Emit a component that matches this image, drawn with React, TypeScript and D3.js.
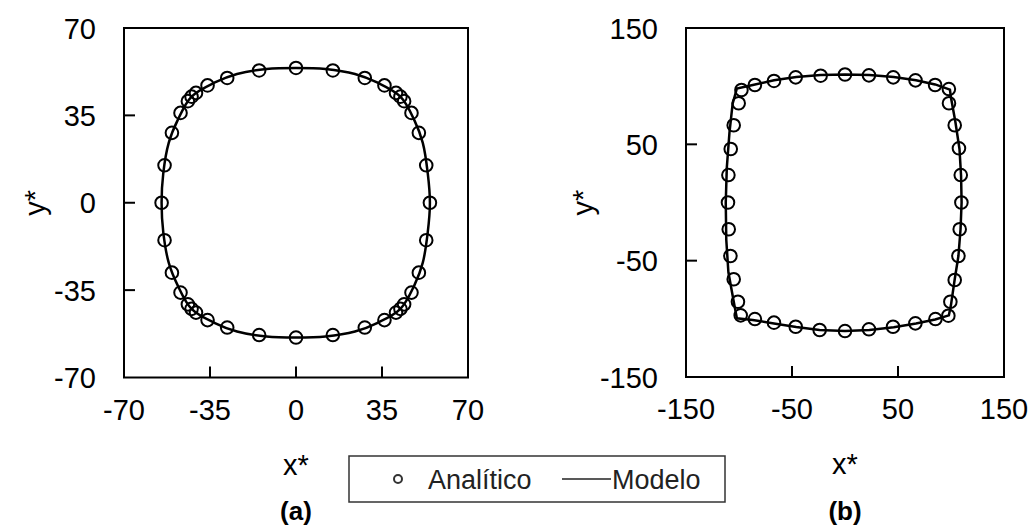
import React from "react";
import * as d3 from "d3";

type Pt = [number, number];

// (a) tick values
const ticksA = [-70, -35, 0, 35, 70];
// (b) tick values
const ticksB = [-150, -50, 50, 150];

// (a) analytic points (x*, y*)
const analyticA: Pt[] = [
  [54.5, 0], [53, 15], [50, 28], [47, 36], [44, 40.7], [42.5, 42.5], [40.7, 44], [36, 47], [28, 50], [15, 53],
  [0, 54],
  [-15, 53], [-28, 50], [-36, 47], [-40.7, 44], [-42.5, 42.5], [-44, 40.7], [-47, 36], [-50.5, 28], [-53.5, 15],
  [-54.7, 0],
  [-53.5, -15], [-50.5, -28], [-47, -36], [-44, -40.7], [-42.5, -42.5], [-40.7, -44], [-36, -47], [-28, -50], [-15, -53],
  [0, -54],
  [15, -53], [28, -50], [36, -47], [40.7, -44], [42.5, -42.5], [44, -40.7], [47, -36], [50, -28], [53, -15],
];

// (a) model curve
const modelA: Pt[] = [
  [54.5, 0], [53.6, 12], [51.6, 24], [48.2, 33], [42.5, 42.5], [33, 48.2], [24, 51.6], [12, 53.6],
  [0, 54],
  [-12, 53.6], [-24, 51.6], [-33, 48.2], [-42.5, 42.5], [-48.2, 33], [-51.8, 24], [-54, 12],
  [-54.7, 0],
  [-54, -12], [-51.8, -24], [-48.2, -33], [-42.5, -42.5], [-33, -48.2], [-24, -51.6], [-12, -53.6],
  [0, -54],
  [12, -53.6], [24, -51.6], [33, -48.2], [42.5, -42.5], [48.2, -33], [51.6, -24], [53.6, -12],
];

// (b) analytic points
const analyticB: Pt[] = [
  [98, 97.5],
  [85, 101], [66.5, 105], [45.5, 107.6], [22.6, 109.3], [0, 110], [-23, 109], [-46.5, 107.6], [-67, 104.5], [-85, 101],
  [-97.7, 96.7],
  [-100.3, 85.3], [-105, 66.4], [-107.8, 46], [-110, 23.6], [-110.4, 0], [-109.7, -23], [-108.1, -46], [-105, -66], [-101, -85.3],
  [-98.4, -97],
  [-85, -100.2], [-67, -103.3], [-46.5, -106.8], [-23.9, -109.6], [0, -110.5], [22.6, -109], [45.3, -106.8], [66.4, -103.9], [85.3, -100.2],
  [97.5, -97.3],
  [99.4, -85.3], [103.5, -66.6], [107, -46], [108.2, -23], [109.8, 0], [109.2, 23.6], [107.5, 46.6], [103.5, 66.4], [98.1, 85.3],
];

// (b) model curve
const modelB: Pt[] = [
  [99, 97], [85, 101.5], [67, 105], [46, 107.8], [23, 109.5], [0, 110], [-23, 109.5], [-46, 107.8], [-67, 105], [-87, 101],
  [-102, 98],
  [-106, 85], [-109, 60], [-111.5, 30], [-112.5, 0], [-112, -32], [-110, -60], [-104, -90],
  [-102, -99.5],
  [-87, -101], [-67, -104], [-46, -107], [-24, -109.6], [0, -110.5], [23, -109.5], [46, -107.2], [67, -104], [85, -100.5],
  [98, -97],
  [100, -88], [103.5, -66], [107, -46], [109, -23], [110, 0], [109.5, 23], [108, 46], [104, 70], [100, 90],
];

const FONT = "'Liberation Sans', Arial, sans-serif";

type PanelProps = {
  left: number; right: number; top: number; bottom: number;
  extent: number; ticks: number[];
  analytic: Pt[]; model: Pt[];
  curve: d3.CurveFactory;
  tag: string; yLabelX: number;
};

const Panel = ({ left, right, top, bottom, extent, ticks, analytic, model, curve, tag, yLabelX }: PanelProps) => {
  const x = d3.scaleLinear().domain([-extent, extent]).range([left, right]);
  const y = d3.scaleLinear().domain([-extent, extent]).range([bottom, top]);
  const line = d3.line<Pt>().x(d => x(d[0])).y(d => y(d[1])).curve(curve);
  const inner = ticks.filter(t => Math.abs(t) !== extent);
  const cx = (left + right) / 2;
  return (
    <g>
      <rect x={left} y={top} width={right - left} height={bottom - top} fill="none" stroke="#000" strokeWidth={2} />
      {inner.map(t => (
        <g key={"t" + t}>
          <line x1={x(t)} x2={x(t)} y1={bottom} y2={bottom - 11} stroke="#000" strokeWidth={2} />
          <line x1={left} x2={left + 11} y1={y(t)} y2={y(t)} stroke="#000" strokeWidth={2} />
        </g>
      ))}
      {ticks.map(t => (
        <g key={"l" + t} fontFamily={FONT} fontSize={29} fill="#000">
          <text x={x(t)} y={bottom + 42} textAnchor="middle">{t}</text>
          <text x={left - 28} y={y(t) + 10.5} textAnchor="end">{t}</text>
        </g>
      ))}
      <path d={line(model) || ""} fill="none" stroke="#000" strokeWidth={2.5} />
      {analytic.map((d, i) => (
        <circle key={i} cx={x(d[0])} cy={y(d[1])} r={6.3} fill="none" stroke="#000" strokeWidth={2} />
      ))}
      <text x={cx} y={bottom + 97} textAnchor="middle" fontFamily={FONT} fontSize={29}>x*</text>
      <text transform={`translate(${yLabelX},${(top + bottom) / 2}) rotate(-90)`} textAnchor="middle"
        fontFamily={FONT} fontSize={29}>y*</text>
      <text x={cx} y={520} textAnchor="middle" fontFamily={FONT} fontSize={26} fontWeight="bold">{tag}</text>
    </g>
  );
};

export default function App() {
  return (
    <svg width={1032} height={525} style={{ position: "absolute", left: 0, top: 0, background: "#fff" }}>
      <Panel left={124} right={468} top={28} bottom={377.5} extent={70} ticks={ticksA}
        analytic={analyticA} model={modelA} curve={d3.curveCatmullRomClosed.alpha(0.5)} tag="(a)" yLabelX={45} />
      <Panel left={686} right={1004} top={28} bottom={377} extent={150} ticks={ticksB}
        analytic={analyticB} model={modelB} curve={d3.curveLinearClosed} tag="(b)" yLabelX={593} />
      <g fontFamily={FONT} fontSize={27} fill="#222">
        <rect x={349} y={456} width={376} height={46} fill="#fff" stroke="#333" strokeWidth={1.5} />
        <circle cx={398} cy={479} r={4} fill="none" stroke="#333" strokeWidth={2} />
        <text x={428} y={489}>Analítico</text>
        <line x1={562} x2={611} y1={479} y2={479} stroke="#222" strokeWidth={1.5} />
        <text x={612} y={489}>Modelo</text>
      </g>
    </svg>
  );
}
